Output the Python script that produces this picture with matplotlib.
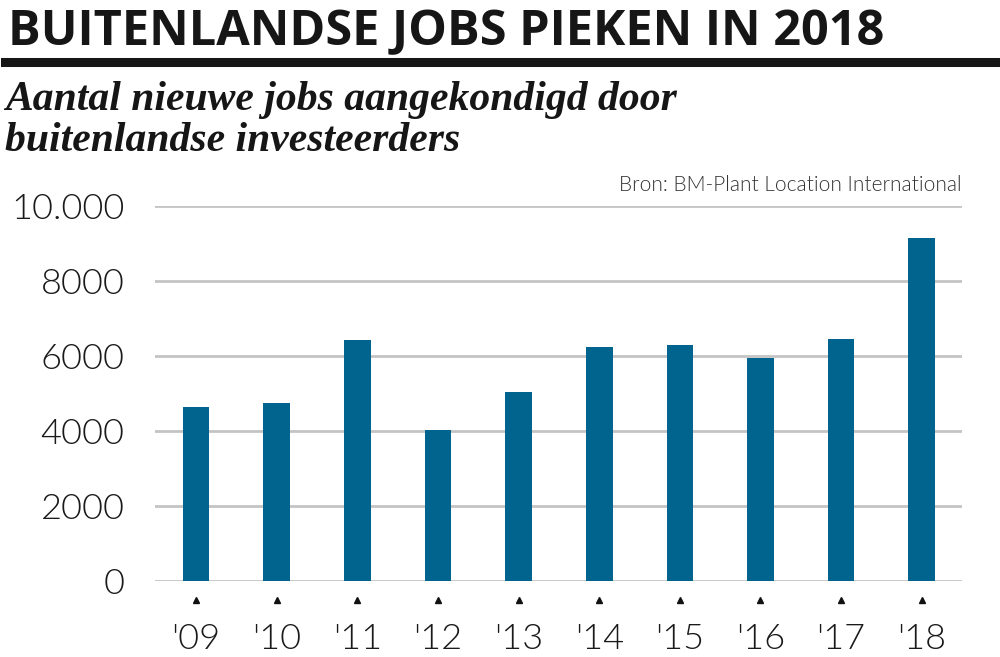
import matplotlib
matplotlib.use("Agg")
import matplotlib.pyplot as plt
from matplotlib.lines import Line2D

years = ["'09", "'10", "'11", "'12", "'13", "'14", "'15", "'16", "'17", "'18"]
jobs = [4650, 4750, 6420, 4030, 5030, 6250, 6300, 5950, 6450, 9150]
yticks = [0, 2000, 4000, 6000, 8000, 10000]
ytick_labels = ["0", "2000", "4000", "6000", "8000", "10.000"]

title = "BUITENLANDSE JOBS PIEKEN IN 2018"
subtitle1 = "Aantal nieuwe jobs aangekondigd door"
subtitle2 = "buitenlandse investeerders"
source = "Bron: BM-Plant Location International"

bar_color = "#00648f"
W, H = 1000, 657
fig = plt.figure(figsize=(W / 100, H / 100), dpi=100)

left, right, top, bottom = 155, 962, 206, 581
ax = fig.add_axes([left / W, 1 - bottom / H, (right - left) / W, (bottom - top) / H])
x = list(range(len(years)))
ax.bar(x, jobs, width=0.33, color=bar_color, zorder=3)
ax.set_xlim(-0.51, 9.5)
ax.set_ylim(0, 10000)
ax.set_yticks(yticks)
ax.set_yticklabels(ytick_labels)
for s in ax.spines.values():
    s.set_visible(False)
ax.grid(axis="y", color="#c4c4c4", linewidth=2, zorder=0)
ax.set_axisbelow(True)
ax.tick_params(axis="y", length=0, pad=22, labelsize=26, labelcolor="#1a1a1a")
ax.tick_params(axis="x", length=0, pad=30, labelsize=26, labelcolor="#1a1a1a")
ax.set_xticks(x)
ax.set_xticklabels(years)
for lab in ax.get_yticklabels() + ax.get_xticklabels():
    lab.set_fontfamily(["Lato", "DejaVu Sans"])
    lab.set_fontweight(300)

ax.plot(x, [-500] * len(x), linestyle="none", marker="^", markersize=5,
        color="#111111", clip_on=False)

fig.text(8 / W, 1 - 45 / H, title, fontsize=35, fontweight="bold",
         family=["Open Sans", "DejaVu Sans"], color="#161616", va="baseline", ha="left")
fig.add_artist(Line2D([5 / W, 1.0], [1 - 62 / H, 1 - 62 / H], color="#161616",
                      linewidth=6.5, transform=fig.transFigure))
fig.text(5 / W, 1 - 110 / H, subtitle1, fontsize=30,
         fontweight="bold", fontstyle="italic", family=["Liberation Serif", "DejaVu Serif"],
         color="#161616", va="baseline", ha="left")
fig.text(5 / W, 1 - 151 / H, subtitle2, fontsize=30,
         fontweight="bold", fontstyle="italic", family=["Liberation Serif", "DejaVu Serif"],
         color="#161616", va="baseline", ha="left")
fig.text(962 / W, 1 - 191 / H, source, fontsize=15, family=["Lato", "DejaVu Sans"],
         fontweight=300, color="#333333", va="baseline", ha="right")

fig.savefig("out.png", dpi=100, facecolor="white")
